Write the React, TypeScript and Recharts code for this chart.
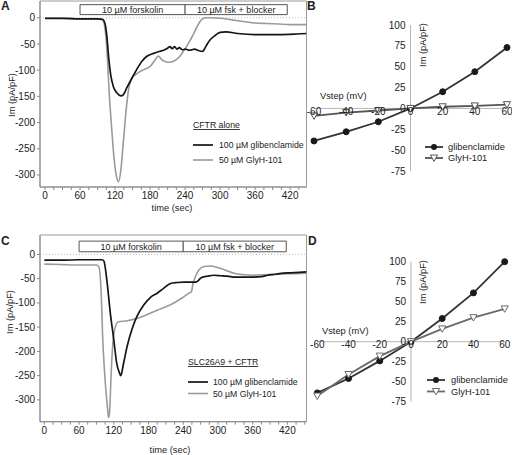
import React from 'react';
import { LineChart, Line, XAxis, YAxis, ReferenceLine, ReferenceArea, ReferenceDot } from 'recharts';

const FONT = '"Liberation Sans", Arial, Helvetica, sans-serif';

// ---------- Panel A : CFTR alone ----------
const tA_glib = [0, 30, 60, 90, 98, 101, 104, 106, 109, 113, 117, 123, 130, 134, 140, 149, 157, 166, 174, 186, 197, 205, 210, 214, 218, 222, 226, 230, 235, 240, 248, 256, 264, 270, 274, 278, 283, 290, 300, 310, 330, 360, 400, 430, 448];
const vA_glib = [-1, -1, -2, -2, -3, -6, -18, -36, -75, -112, -131, -143, -149, -147, -134, -115, -99, -83, -74, -68, -64, -61, -58, -55, -59, -55, -60, -57, -61, -60, -62, -60, -63, -64, -58, -50, -42, -35, -28, -27, -30, -32, -32, -31, -30];
const tA_glyh = [0, 30, 60, 90, 98, 100, 103, 105, 107, 110, 114, 118, 123, 126, 130, 134, 139, 143, 149, 157, 169, 180, 189, 194, 200, 207, 214, 220, 226, 232, 237, 243, 249, 255, 260, 265, 270, 276, 285, 300, 320, 340, 360, 380, 400, 420, 448];
const vA_glyh = [-1, -1, -2, -2, -3, -5, -23, -45, -80, -144, -208, -265, -306, -313, -290, -240, -176, -138, -115, -107, -99, -93, -80, -73, -80, -84, -85, -83, -79, -72, -64, -54, -42, -30, -18, -8, -2, 0, 0, -1, -4, -7, -10, -11, -12, -13, -13];

// ---------- Panel C : SLC26A9 + CFTR ----------
const tC_glib = [0, 30, 60, 90, 100, 103, 108, 114, 120, 125, 130, 132, 137, 143, 151, 160, 172, 183, 195, 206, 218, 230, 242, 253, 262, 266, 270, 276, 281, 293, 305, 316, 330, 345, 362, 375, 386, 400, 409, 425, 440, 453];
const vC_glib = [-12, -12, -11, -11, -11, -14, -53, -121, -176, -224, -245, -250, -224, -190, -156, -128, -104, -89, -80, -70, -60, -58, -57, -57, -57, -54, -49, -46, -45, -43, -44, -45, -47, -47, -47, -46, -43, -41, -39, -38, -37, -36];
const tC_glyh = [0, 30, 60, 90, 94, 98, 101, 105, 109, 111, 113, 115, 118, 122, 128, 143, 154, 172, 195, 218, 238, 250, 254, 257, 261, 267, 276, 287, 299, 314, 328, 345, 357, 375, 400, 425, 453];
const vC_glyh = [-20, -21, -22, -22, -25, -73, -176, -259, -314, -337, -320, -259, -190, -152, -139, -137, -134, -127, -115, -104, -90, -80, -77, -60, -46, -32, -25, -24, -27, -33, -39, -42, -43, -42, -41, -40, -39];

// ---------- Panels B / D : I-V ----------
const vstep = [-60, -40, -20, 0, 20, 40, 60];
const B_glib = [-39, -28, -16, 0, 20, 44, 73];
const B_glyh = [-9, -5, -2.5, 0, 2, 3, 4.5];
const D_glib = [-64, -46, -24, 0, 29, 61, 100];
const D_glyh = [-68, -41, -18, 0, 16, 30, 41];

const timeTicks = [0, 15, 30, 45, 60, 75, 90, 105, 120, 135, 150, 165, 180, 195, 210, 225, 240, 255, 270, 285, 300, 315, 330, 345, 360, 375, 390, 405, 420, 435, 450];
const traceYTicks = [-300, -250, -200, -150, -100, -50, 0];
const ivYTicks = [-75, -50, -25, 0, 25, 50, 75, 100];

const boxLabel1 = '10 µM forskolin';
const boxLabel2 = '10 µM fsk + blocker';

const pts = (t: number[], v: number[]) => t.map((x, i) => ({ t: x, v: v[i] }));
const ivPts = (v: number[]) => vstep.map((x, i) => ({ x, y: v[i] }));

type TraceProps = {
  top: number;
  height: number;
  plotTop: number;
  plotBottom: number;
  xDomain: [number, number];
  yDomain: [number, number];
  glib: { t: number; v: number }[];
  glyh: { t: number; v: number }[];
  box: [number, number, number];
  boxY: [number, number];
};

function TracePanel({ top, height, plotTop, plotBottom, xDomain, yDomain, glib, glyh, box, boxY }: TraceProps) {
  const ticks = timeTicks.filter((t) => t >= xDomain[0] && t <= xDomain[1]);
  return (
    <div style={{ position: 'absolute', left: 0, top, width: 320, height }}>
      <LineChart width={320} height={height} margin={{ top: plotTop, right: 13.5, bottom: 0, left: 0 }}>
        <XAxis
          type="number"
          dataKey="t"
          domain={xDomain}
          allowDataOverflow
          ticks={ticks}
          interval={0}
          tickFormatter={(v: number) => (v % 60 === 0 ? String(v) : '')}
          height={height - plotBottom}
          tickSize={3}
          stroke="#8a8a8a"
          tick={{ fontSize: 10, fill: '#222' }}
        />
        <YAxis
          type="number"
          dataKey="v"
          domain={yDomain}
          allowDataOverflow
          ticks={traceYTicks}
          interval={0}
          width={40}
          tickSize={3}
          stroke="#8a8a8a"
          tick={{ fontSize: 10, fill: '#222' }}
        />
        <ReferenceArea
          x1={xDomain[0]}
          x2={xDomain[1]}
          y1={yDomain[0]}
          y2={yDomain[1]}
          fill="none"
          fillOpacity={0}
          stroke="#9a9a9a"
          strokeWidth={1}
          ifOverflow="visible"
        />
        <ReferenceLine y={0} stroke="#bdbdbd" strokeDasharray="1 2" />
        <ReferenceArea
          x1={box[0]}
          x2={box[1]}
          y1={boxY[0]}
          y2={boxY[1]}
          fill="#fff"
          fillOpacity={1}
          stroke="#555"
          strokeWidth={1}
          ifOverflow="visible"
          label={{ value: boxLabel1, position: 'center', fontSize: 9, fill: '#222' }}
        />
        <ReferenceArea
          x1={box[1]}
          x2={box[2]}
          y1={boxY[0]}
          y2={boxY[1]}
          fill="#fff"
          fillOpacity={1}
          stroke="#555"
          strokeWidth={1}
          ifOverflow="visible"
          label={{ value: boxLabel2, position: 'center', fontSize: 9, fill: '#222' }}
        />
        <Line data={glyh} dataKey="v" type="monotone" stroke="#9a9a9a" strokeWidth={1.6} dot={false} isAnimationActive={false} />
        <Line data={glib} dataKey="v" type="monotone" stroke="#151515" strokeWidth={1.7} dot={false} isAnimationActive={false} />
      </LineChart>
    </div>
  );
}

const TriDot = (color: string) => (props: any) => {
  const { cx, cy, index } = props;
  if (cx == null || cy == null) return <g key={`t${index}`} />;
  return (
    <path
      key={`t${index}`}
      d={`M${cx - 3.6},${cy - 3} L${cx + 3.6},${cy - 3} L${cx},${cy + 3.4} Z`}
      fill="#fff"
      stroke={color}
      strokeWidth={1}
    />
  );
};

type IVProps = {
  left: number;
  top: number;
  width: number;
  height: number;
  margin: { top: number; right: number; bottom: number; left: number };
  glib: { x: number; y: number }[];
  glyh: { x: number; y: number }[];
  glyhColor: string;
};

function IVPanel({ left, top, width, height, margin, glib, glyh, glyhColor }: IVProps) {
  return (
    <div style={{ position: 'absolute', left, top, width, height }}>
      <LineChart width={width} height={height} margin={margin}>
        <XAxis type="number" dataKey="x" domain={[-60, 60]} hide />
        <YAxis type="number" dataKey="y" domain={[-75, 100]} hide />
        <ReferenceLine y={0} stroke="#b5b5b5" strokeWidth={1} />
        <ReferenceLine x={0} stroke="#b5b5b5" strokeWidth={1} />
        {vstep.map((v) => (
          <ReferenceDot
            key={`x${v}`}
            x={v}
            y={0}
            r={0}
            fill="none"
            stroke="none"
            label={{ value: String(v), position: 'bottom', offset: -1, fontSize: 10, fill: '#222' }}
          />
        ))}
        {ivYTicks.map((v) => (
          <ReferenceDot
            key={`y${v}`}
            x={0}
            y={v}
            r={0}
            fill="none"
            stroke="none"
            label={{ value: String(v), position: 'left', offset: 5, fontSize: 10, fill: '#222' }}
          />
        ))}
        <Line
          data={glib}
          dataKey="y"
          type="linear"
          stroke="#333"
          strokeWidth={1.8}
          dot={{ r: 3, fill: '#1a1a1a', stroke: '#1a1a1a', strokeWidth: 1 }}
          isAnimationActive={false}
        />
        <Line
          data={glyh}
          dataKey="y"
          type="linear"
          stroke={glyhColor}
          strokeWidth={1.8}
          dot={TriDot(glyhColor)}
          isAnimationActive={false}
        />
      </LineChart>
    </div>
  );
}

function Tri({ x, y, color }: { x: number; y: number; color: string }) {
  return <path d={`M${x - 3.6},${y - 3} L${x + 3.6},${y - 3} L${x},${y + 3.4} Z`} fill="#fff" stroke={color} strokeWidth={1} />;
}

export default function App() {
  const t = { fontFamily: FONT, fill: '#222' } as const;
  return (
    <div style={{ position: 'absolute', left: 0, top: 0, width: 512, height: 455, background: '#fff', fontFamily: FONT, overflow: 'hidden' }}>
      <TracePanel
        top={0}
        height={220}
        plotTop={1}
        plotBottom={187}
        xDomain={[-8.6, 448]}
        yDomain={[-323, 32]}
        glib={pts(tA_glib, vA_glib)}
        glyh={pts(tA_glyh, vA_glyh)}
        box={[60, 240, 415]}
        boxY={[6, 25]}
      />
      <TracePanel
        top={220}
        height={235}
        plotTop={15}
        plotBottom={201.7}
        xDomain={[-7.5, 453]}
        yDomain={[-345, 40]}
        glib={pts(tC_glib, vC_glib)}
        glyh={pts(tC_glyh, vC_glyh)}
        box={[60, 240, 418]}
        boxY={[5.4, 27.4]}
      />
      <IVPanel
        left={300}
        top={0}
        width={212}
        height={200}
        margin={{ top: 25, right: 5, bottom: 29, left: 14 }}
        glib={ivPts(B_glib)}
        glyh={ivPts(B_glyh)}
        glyhColor="#555"
      />
      <IVPanel
        left={300}
        top={220}
        width={212}
        height={220}
        margin={{ top: 41.7, right: 7.3, bottom: 38.3, left: 17.3 }}
        glib={ivPts(D_glib)}
        glyh={ivPts(D_glyh)}
        glyhColor="#6a6a6a"
      />
      <svg width={512} height={455} style={{ position: 'absolute', left: 0, top: 0, pointerEvents: 'none' }}>
        <text x={1} y={10} fontSize={12} fontWeight="bold" {...t}>A</text>
        <text x={307} y={10} fontSize={12} fontWeight="bold" {...t}>B</text>
        <text x={1} y={245} fontSize={12} fontWeight="bold" {...t}>C</text>
        <text x={308} y={245} fontSize={12} fontWeight="bold" {...t}>D</text>

        <text x={172} y={211} fontSize={9.3} textAnchor="middle" {...t}>time (sec)</text>
        <text x={0} y={0} fontSize={9.3} textAnchor="middle" transform="translate(15,95) rotate(-90)" {...t}>Im (pA/pF)</text>
        <text x={170} y={453} fontSize={9.3} textAnchor="middle" {...t}>time (sec)</text>
        <text x={0} y={0} fontSize={9.3} textAnchor="middle" transform="translate(13,312) rotate(-90)" {...t}>Im (pA/pF)</text>

        <text x={193} y={128} fontSize={8.7} textDecoration="underline" {...t}>CFTR alone</text>
        <line x1={193} x2={213} y1={145} y2={145} stroke="#151515" strokeWidth={1.7} />
        <text x={219} y={148} fontSize={8.7} {...t}>100 µM glibenclamide</text>
        <line x1={193} x2={213} y1={160} y2={160} stroke="#9a9a9a" strokeWidth={1.6} />
        <text x={219} y={163} fontSize={8.7} {...t}>50 µM GlyH-101</text>

        <text x={188} y={365} fontSize={8.7} textDecoration="underline" {...t}>SLC26A9 + CFTR</text>
        <line x1={188} x2={208} y1={382} y2={382} stroke="#151515" strokeWidth={1.7} />
        <text x={213} y={385} fontSize={8.7} {...t}>100 µM glibenclamide</text>
        <line x1={188} x2={208} y1={393.5} y2={393.5} stroke="#9a9a9a" strokeWidth={1.6} />
        <text x={213} y={396.5} fontSize={8.7} {...t}>50 µM GlyH-101</text>

        <text x={320} y={99} fontSize={9.3} {...t}>Vstep (mV)</text>
        <text x={0} y={0} fontSize={9.3} textAnchor="middle" transform="translate(426,45) rotate(-90)" {...t}>Im (pA/pF)</text>
        <line x1={425} x2={443} y1={147} y2={147} stroke="#333" strokeWidth={1.8} />
        <circle cx={434} cy={147} r={3} fill="#1a1a1a" />
        <text x={448} y={150} fontSize={9.3} {...t}>glibenclamide</text>
        <line x1={425} x2={443} y1={158} y2={158} stroke="#555" strokeWidth={1.8} />
        <Tri x={434} y={158} color="#555" />
        <text x={448} y={161} fontSize={9.3} {...t}>GlyH-101</text>

        <text x={322} y={334} fontSize={9.3} {...t}>Vstep (mV)</text>
        <text x={0} y={0} fontSize={9.3} textAnchor="middle" transform="translate(426,282) rotate(-90)" {...t}>Im (pA/pF)</text>
        <line x1={427} x2={445} y1={380} y2={380} stroke="#333" strokeWidth={1.8} />
        <circle cx={436} cy={380} r={3} fill="#1a1a1a" />
        <text x={451} y={383} fontSize={9.3} {...t}>glibenclamide</text>
        <line x1={427} x2={445} y1={391.5} y2={391.5} stroke="#6a6a6a" strokeWidth={1.8} />
        <Tri x={436} y={391.5} color="#6a6a6a" />
        <text x={451} y={394.5} fontSize={9.3} {...t}>GlyH-101</text>
      </svg>
    </div>
  );
}
